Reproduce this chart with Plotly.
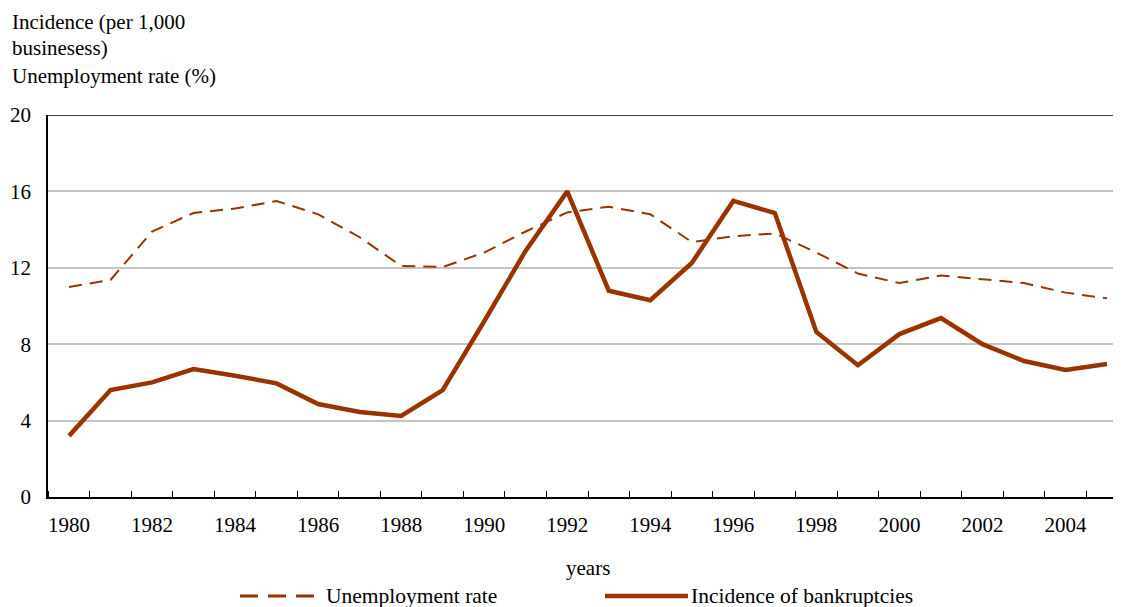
import plotly.graph_objects as go

years = list(range(1980, 2006))
bankruptcies = [3.2, 5.6, 6.0, 6.7, 6.35, 5.95, 4.87, 4.45, 4.24, 5.6, 9.2, 12.9,
                16.0, 10.8, 10.3, 12.25, 15.5, 14.87, 8.64, 6.9, 8.53, 9.37, 8.0,
                7.12, 6.65, 6.96]
unemployment = [11.0, 11.36, 13.9, 14.87, 15.1, 15.5, 14.8, 13.6, 12.1, 12.04,
                 12.8, 13.9, 14.9, 15.2, 14.8, 13.35, 13.65, 13.8, 12.8, 11.7,
                 11.2, 11.6, 11.4, 11.2, 10.7, 10.4]
x_tick_labels = [str(y) for y in range(1980, 2005, 2)]
y_ticks = [0, 4, 8, 12, 16, 20]

COLOR = "#993300"
FONT = "Liberation Serif, Times New Roman, serif"
OFF = 8  # page body margin
PW, PH = 1073, 382
L, T = 48 - OFF, 115 - OFF


def px(xr):
    return (xr - 48) / PW


def py(yr):
    return (497 - yr) / PH


fig = go.Figure()
fig.add_trace(go.Scatter(x=years, y=unemployment, mode="lines", name="Unemployment rate",
                         line=dict(color=COLOR, width=2, dash="13px,8px"), showlegend=False))
fig.add_trace(go.Scatter(x=years, y=bankruptcies, mode="lines", name="Incidence of bankruptcies",
                         line=dict(color=COLOR, width=4.5), showlegend=False))

fig.update_layout(
    width=1121 - OFF, height=607 - OFF,
    margin=dict(l=L, r=0, t=T, b=607 - OFF - T - PH),
    paper_bgcolor="white", plot_bgcolor="white",
    font=dict(family=FONT, size=21, color="black"),
    xaxis=dict(range=[1979.494, 2005.337], tickvals=[int(t) for t in x_tick_labels],
               ticktext=x_tick_labels, ticks="", showgrid=False, zeroline=False,
               showline=True, linecolor="black", linewidth=1.5,
               minor=dict(tick0=1980.5, dtick=1, ticks="inside", ticklen=6,
                          tickcolor="black", tickwidth=1, showgrid=False),
               tickfont=dict(family=FONT, size=21), ticklabelstandoff=8),
    yaxis=dict(range=[0, 20], tickvals=y_ticks, showgrid=True, gridcolor="#c4c4c4",
               gridwidth=2, zeroline=False, showline=True, linecolor="black",
               linewidth=1.5, ticks="", ticklabelstandoff=11,
               tickfont=dict(family=FONT, size=21)),
)

# top frame line at 20
fig.add_shape(type="line", xref="paper", yref="y", x0=0, x1=1, y0=20, y1=20,
              line=dict(color="black", width=1.5))

# axis title (top-left)
for txt, ypx in [("Incidence (per 1,000", 22), ("businesess)", 48), ("Unemployment rate (%)", 76)]:
    fig.add_annotation(xref="paper", yref="paper", x=px(10), y=py(ypx), text=txt,
                       showarrow=False, xanchor="left", yanchor="middle",
                       font=dict(family=FONT, size=21))

fig.add_annotation(xref="paper", yref="paper", x=px(588), y=py(568),
                   text="years", showarrow=False, xanchor="center", yanchor="middle",
                   font=dict(family=FONT, size=21))

# legend
ly = py(596)
fig.add_shape(type="line", xref="paper", yref="paper", x0=px(240), x1=px(315),
              y0=ly, y1=ly, line=dict(color=COLOR, width=3, dash="18px,10px"))
fig.add_annotation(xref="paper", yref="paper", x=px(324), y=ly, text="Unemployment rate",
                   showarrow=False, xanchor="left", yanchor="middle", font=dict(family=FONT, size=21.5))
fig.add_shape(type="line", xref="paper", yref="paper", x0=px(605), x1=px(688),
              y0=ly, y1=ly, line=dict(color=COLOR, width=4.5))
fig.add_annotation(xref="paper", yref="paper", x=px(689), y=ly, text="Incidence of bankruptcies",
                   showarrow=False, xanchor="left", yanchor="middle", font=dict(family=FONT, size=21.5))

fig.write_html("out.html")
